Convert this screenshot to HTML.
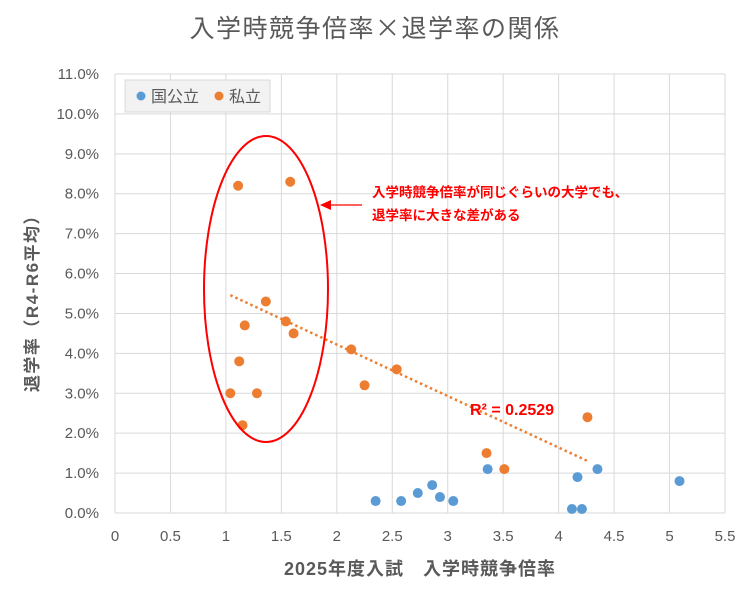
<!DOCTYPE html>
<html><head><meta charset="utf-8">
<style>
body{margin:0;background:#fff;}
svg text{font-family:"Liberation Sans","Noto Sans CJK JP",sans-serif;}
</style></head>
<body>
<svg id="chart" width="755" height="588" viewBox="0 0 755 588">
<rect x="0" y="0" width="755" height="588" fill="#fff"/>
<text x="375" y="37" text-anchor="middle" font-size="25" letter-spacing="1.5" fill="#595959">入学時競争倍率<tspan font-family="Noto Sans CJK JP">×</tspan>退学率の関係</text>
<g id="grid"></g>
<g id="ticks"></g>
<text transform="translate(38,299) rotate(-90)" text-anchor="middle" font-size="17" letter-spacing="1.5" font-weight="bold" fill="#595959">退学率（R4-R6平均）</text>
<text x="420" y="575" text-anchor="middle" font-size="18" letter-spacing="1" font-weight="bold" fill="#595959">2025年度入試　入学時競争倍率</text>
<g id="trend"></g>
<g id="points"></g>
<ellipse cx="266" cy="289" rx="62" ry="153" fill="none" stroke="#ff0000" stroke-width="2"/>
<line x1="362" y1="205" x2="330" y2="205" stroke="#ff0000" stroke-width="1.3"/>
<polygon points="320,205 331,200 331,210" fill="#ff0000"/>
<text x="372" y="197" font-size="13.5" font-weight="bold" fill="#ff0000">入学時競争倍率が同じぐらいの大学でも、</text>
<text x="372" y="220" font-size="13.5" font-weight="bold" fill="#ff0000">退学率に大きな差がある</text>
<text x="470" y="415" font-size="16" font-weight="bold" fill="#ff0000">R² = 0.2529</text>
<g>
<rect x="125" y="80" width="145" height="32" fill="#f2f2f2" stroke="#d9d9d9"/>
<circle cx="141" cy="96" r="4.5" fill="#5b9bd5"/>
<text x="151" y="102" font-size="16" fill="#595959">国公立</text>
<circle cx="219" cy="96" r="4.5" fill="#ed7d31"/>
<text x="229" y="102" font-size="16" fill="#595959">私立</text>
</g>
</svg>
<script>
const xTicks=[0,0.5,1,1.5,2,2.5,3,3.5,4,4.5,5,5.5];
const xTickLabels=["0","0.5","1","1.5","2","2.5","3","3.5","4","4.5","5","5.5"];
const yTicks=[0,1,2,3,4,5,6,7,8,9,10,11];
const yTickLabels=["0.0%","1.0%","2.0%","3.0%","4.0%","5.0%","6.0%","7.0%","8.0%","9.0%","10.0%","11.0%"];
const privateX=[1.11,1.58,1.36,1.17,1.54,1.61,1.12,1.04,1.28,1.15,2.13,2.25,2.54,3.35,3.51,4.26];
const privateY=[8.2,8.3,5.3,4.7,4.8,4.5,3.8,3.0,3.0,2.2,4.1,3.2,3.6,1.5,1.1,2.4];
const nationalX=[2.35,2.58,2.73,2.86,2.93,3.05,3.36,4.12,4.21,4.17,4.35,5.09];
const nationalY=[0.3,0.3,0.5,0.7,0.4,0.3,1.1,0.1,0.1,0.9,1.1,0.8];
const trendCoef=[6.80,-1.29]; // intercept, slope (as shown in reference trendline)
const NS="http://www.w3.org/2000/svg";
const X0=115,X1=725,Y0=513,Y1=74;
function sx(v){return X0+(v-0)/(5.5-0)*(X1-X0);}
function sy(v){return Y0-(v-0)/(11-0)*(Y0-Y1);}
function mk(tag,attrs,parent){const e=document.createElementNS(NS,tag);for(const k in attrs)e.setAttribute(k,attrs[k]);document.getElementById(parent).appendChild(e);return e;}
yTicks.forEach((t,i)=>{
 const l=mk('line',{x1:X0,x2:X1,y1:sy(t),y2:sy(t),stroke:'#d9d9d9','stroke-width':1},'grid');
 
 
 const tx=mk('text',{x:X0-16,y:sy(t)+5,'text-anchor':'end','font-size':15,fill:'#595959'},'ticks');
 tx.textContent=yTickLabels[i];
 
 
});
xTicks.forEach((t,i)=>{
 const l=mk('line',{x1:sx(t),x2:sx(t),y1:Y1,y2:Y0,stroke:'#d9d9d9','stroke-width':1},'grid');
 
 
 const tx=mk('text',{x:sx(t),y:Y0+28,'text-anchor':'middle','font-size':15,fill:'#595959'},'ticks');
 tx.textContent=xTickLabels[i];
 
 
});
const xmin=Math.min(...privateX),xmax=Math.max(...privateX);
const a=trendCoef[0],b=trendCoef[1];
const tl=mk('line',{x1:sx(xmin),y1:sy(a+b*xmin),x2:sx(xmax),y2:sy(a+b*xmax),stroke:'#ed7d31','stroke-width':2.5,'stroke-dasharray':'2.5 3'},'trend');


nationalX.forEach((v,i)=>{
 const c=mk('circle',{cx:sx(v),cy:sy(nationalY[i]),r:5,fill:'#5b9bd5'},'points');
 
 
});
privateX.forEach((v,i)=>{
 const c=mk('circle',{cx:sx(v),cy:sy(privateY[i]),r:5,fill:'#ed7d31'},'points');
 
 
});
</script>
</body></html>
